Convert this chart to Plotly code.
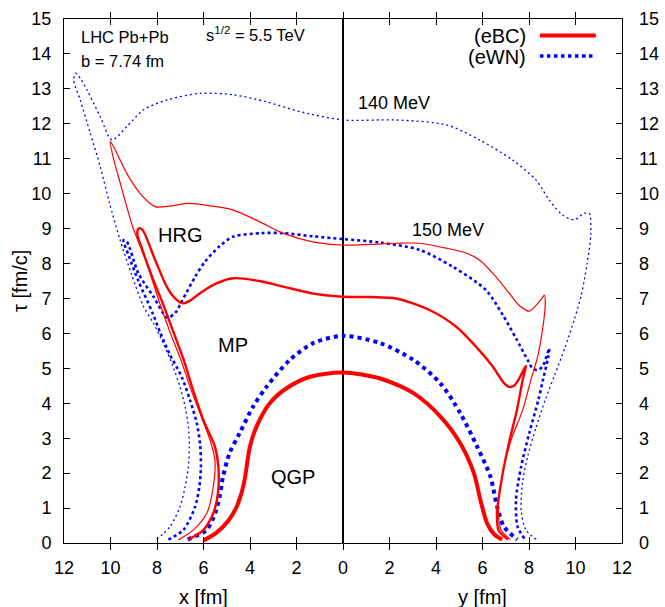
import plotly.graph_objects as go

# Isotherms in the (x, tau) plane: negative abscissa = x direction, positive = y direction
# eBC, QGP boundary
ebc_qgp_x = [-6.0, -5.45, -4.95, -4.6, -4.37, -4.22, -4.12, -4.0, -3.72, -3.15, -2.43, -1.42, 0.0,
             1.6, 3.03, 4.19, 5.05, 5.63, 5.91, 6.2, 6.5, 6.85]
ebc_qgp_t = [0.07, 0.29, 0.62, 1.0, 1.42, 1.85, 2.3, 2.76, 3.33, 4.0, 4.43, 4.76, 4.88,
             4.71, 4.29, 3.62, 2.85, 2.0, 1.23, 0.56, 0.25, 0.1]

# eWN, QGP boundary
ewn_qgp_x = [-6.68, -5.88, -5.5, -5.3, -5.16, -4.88, -4.45, -3.87, -3.29, -2.29, -1.28, 0.0,
             1.6, 3.03, 4.19, 5.05, 5.77, 6.34, 6.63, 6.92, 7.5]
ewn_qgp_t = [0.1, 0.37, 0.85, 1.35, 1.9, 2.57, 3.14, 3.9, 4.47, 5.24, 5.72, 5.93,
             5.72, 5.24, 4.57, 3.71, 2.76, 1.9, 1.04, 0.47, 0.1]

# eBC, mixed phase / hadron gas boundary
ebc_mp_x = [-6.65, -6.01, -5.58, -5.38, -5.36, -5.51, -6.01, -6.45, -6.85, -7.3, -7.75, -8.2, -8.58,
            -8.85, -8.78, -8.62, -8.08, -7.58, -7.22, -6.9, -6.6, -6.15, -5.45, -4.72, -3.6, -2.58,
            -1.2, 0.0, 1.2, 2.29, 3.72, 4.87, 5.72, 6.44, 6.9, 7.15, 7.35, 7.58, 7.8, 7.87, 7.73,
            7.48, 7.15, 6.87, 6.7, 6.62, 6.7, 7.1]
ebc_mp_t = [0.1, 0.37, 0.85, 1.42, 2.18, 2.76, 3.52, 4.38, 5.24, 6.05, 6.86, 7.6, 8.3,
            8.87, 9.01, 8.96, 8.1, 7.34, 7.0, 6.86, 6.93, 7.15, 7.43, 7.58, 7.5, 7.34,
            7.13, 7.05, 7.04, 7.0, 6.67, 6.19, 5.62, 5.05, 4.6, 4.47, 4.5, 4.71, 5.0, 5.07, 4.67,
            3.81, 2.9, 2.0, 1.3, 0.85, 0.35, 0.1]

# eBC, 150 MeV isotherm
ebc_150_x = [-7.08, -6.44, -5.86, -5.58, -5.51, -5.72, -6.15, -6.58, -6.97, -7.42, -7.9, -8.44,
             -9.05, -9.58, -9.87, -10.01, -9.87, -9.3, -8.73, -8.08, -7.4, -6.65, -5.7, -4.72,
             -3.6, -2.58, -1.3, 0.0, 1.2, 2.29, 3.29, 4.44, 5.3, 5.87, 6.58, 7.15, 7.58, 8.01,
             8.3, 8.55, 8.66, 8.7, 8.58, 8.37, 8.08, 7.73, 7.23, 6.87, 6.68, 6.8, 7.2]
ebc_150_t = [0.09, 0.37, 0.85, 1.61, 2.38, 2.95, 3.71, 4.47, 5.24, 6.0, 6.9, 8.01,
             9.06, 10.3, 11.0, 11.49, 11.35, 10.58, 10.01, 9.63, 9.65, 9.72, 9.65, 9.53,
             9.2, 8.87, 8.62, 8.53, 8.55, 8.58, 8.58, 8.44, 8.3, 8.1, 7.62, 7.15, 6.8, 6.64,
             6.8, 7.0, 7.1, 6.86, 6.1, 5.33, 4.67, 3.81, 2.95, 2.0, 1.04, 0.37, 0.1]

# eWN, 150 MeV isotherm
ewn_150_x = [-7.51, -6.87, -6.36, -6.18, -6.11, -6.15, -6.29, -6.58, -6.94, -7.45, -7.85, -8.2,
             -8.8, -9.2, -9.44, -9.3, -8.8, -8.15, -7.55, -7.2, -6.94, -6.36, -5.94, -5.3, -4.72,
             -3.5, -2.58, -1.3, 0.0, 1.6, 3.29, 4.72, 6.15, 6.87, 7.44, 7.94, 8.15, 8.35, 8.58,
             8.87, 8.82, 8.6, 8.4, 8.01, 7.66, 7.44, 7.51, 7.8]
ewn_150_t = [0.1, 0.37, 1.04, 1.61, 2.18, 2.85, 3.43, 4.09, 4.76, 5.4, 6.0, 6.6,
             7.5, 8.2, 8.67, 8.63, 7.72, 7.05, 6.45, 6.6, 6.91, 7.62, 8.05, 8.5, 8.77,
             8.87, 8.87, 8.78, 8.7, 8.6, 8.39, 7.91, 7.24, 6.53, 5.86, 5.24, 5.0, 4.95, 5.05,
             5.57, 5.3, 4.67, 4.09, 3.14, 2.18, 1.23, 0.47, 0.13]

# eWN, 140 MeV isotherm
ewn_140_x = [-8.01, -7.44, -7.01, -6.79, -6.65, -6.61, -6.65, -6.79, -7.01, -7.36, -7.73, -8.15,
             -8.58, -9.1, -9.6, -10.05, -10.44, -10.87, -11.3, -11.58, -11.5, -11.25, -11.01,
             -10.44, -9.94, -9.3, -8.58, -7.58, -6.15, -4.72, -3.29, -1.86, 0.0, 2.29, 4.44,
             5.87, 7.3, 8.3, 8.87, 9.44, 9.94, 10.37, 10.59, 10.66, 10.5, 10.25, 9.95, 9.55,
             9.1, 8.7, 8.3, 7.95, 7.72, 7.66, 7.87, 8.35]
ewn_140_t = [0.1, 0.47, 1.04, 1.61, 2.18, 2.76, 3.33, 3.9, 4.47, 5.14, 5.72, 6.29,
             6.77, 7.7, 8.7, 9.75, 10.77, 11.73, 12.68, 13.25, 13.45, 13.25, 12.97,
             12.2, 11.54, 11.92, 12.4, 12.68, 12.87, 12.83, 12.63, 12.35, 12.11, 12.11, 11.97,
             11.54, 10.96, 10.39, 9.82, 9.39, 9.25, 9.44, 9.44, 8.87, 8.0, 7.1, 6.4, 5.6,
             4.8, 4.1, 3.3, 2.5, 1.71, 0.94, 0.37, 0.09]

x_tick_vals = list(range(-12, 13, 2))
x_tick_text = [str(abs(v)) for v in x_tick_vals]
y_tick_vals = list(range(0, 16))

RED = "#ff0000"
BLUE = "#0000ff"
FONT = "Liberation Sans, Arial, sans-serif"

fig = go.Figure()

curves = [
    (ewn_140_x, ewn_140_t, BLUE, 1.3, "2px,3px", "y2"),
    (ewn_150_x, ewn_150_t, BLUE, 2.6, "3px,3px", "y"),
    (ewn_qgp_x, ewn_qgp_t, BLUE, 4.0, "4px,4px", "y"),
    (ebc_150_x, ebc_150_t, RED, 1.2, "solid", "y"),
    (ebc_mp_x, ebc_mp_t, RED, 2.4, "solid", "y"),
    (ebc_qgp_x, ebc_qgp_t, RED, 4.0, "solid", "y"),
]
for cx, ct, col, w, dash, yax in curves:
    fig.add_trace(go.Scatter(
        x=cx, y=ct, mode="lines", yaxis=yax, showlegend=False, hoverinfo="skip",
        line=dict(color=col, width=w, dash=dash, shape="spline", smoothing=0.8),
    ))

TICK_FONT = dict(family=FONT, size=18, color="black")
axis_common = dict(showgrid=False, showline=True, linecolor="black", linewidth=1,
                   ticks="inside", ticklen=6, tickcolor="black", mirror="allticks",
                   tickfont=TICK_FONT, automargin=False)

fig.update_layout(
    width=665, height=607,
    margin=dict(l=64, r=43, t=19, b=64),
    paper_bgcolor="white", plot_bgcolor="white",
    font=dict(family=FONT, color="black"),
    xaxis=dict(range=[-12, 12], tickvals=x_tick_vals, ticktext=x_tick_text,
               zeroline=True, zerolinecolor="black", zerolinewidth=1.6,
               ticklabelstandoff=8, **axis_common),
    yaxis=dict(range=[0, 15], tickvals=y_tick_vals, zeroline=True, zerolinecolor="black",
               zerolinewidth=2, ticklabelstandoff=8, **axis_common),
    yaxis2=dict(range=[0, 15], tickvals=y_tick_vals, overlaying="y", side="right",
                matches="y", showgrid=False, zeroline=False, showline=False, ticks="",
                ticklabelstandoff=16, tickfont=TICK_FONT, automargin=False),
)

def note(text, x, y, size=17, xanchor="center", xref="x", yref="y", angle=0):
    fig.add_annotation(text=text, x=x, y=y, xref=xref, yref=yref, showarrow=False,
                       xanchor=xanchor, yanchor="middle", textangle=angle,
                       font=dict(family=FONT, size=size, color="black"))

note("LHC Pb+Pb", -11.35, 14.49, size=16.5, xanchor="left")
note("s<sup>1/2</sup> = 5.5 TeV", -5.98, 14.57, size=16.5, xanchor="left")
note("b = 7.74 fm", -11.35, 13.8, size=16.5, xanchor="left")
note("140 MeV", 2.19, 12.6, size=18)
note("150 MeV", 4.5, 8.96, size=18)
note("HRG", -7.0, 8.82, size=20)
note("MP", -4.73, 5.67, size=20)
note("QGP", -2.17, 1.89, size=20)
note("x [fm]", -6, -0.103, size=20, yref="paper")
note("y [fm]", 6, -0.103, size=20, yref="paper")
note("τ [fm/c]", -0.079, 0.5, size=20, xref="paper", yref="paper", angle=-90)

# Legend in the upper right corner: label on the left, line sample on the right
note("(eBC)", 0.8315, 0.9675, size=20, xanchor="right", xref="paper", yref="paper")
note("(eWN)", 0.8315, 0.9275, size=20, xanchor="right", xref="paper", yref="paper")
fig.add_shape(type="line", xref="paper", yref="paper", x0=0.853, x1=0.953, y0=0.9683, y1=0.9683,
              line=dict(color=RED, width=4))
fig.add_shape(type="line", xref="paper", yref="paper", x0=0.853, x1=0.953, y0=0.9294, y1=0.9294,
              line=dict(color=BLUE, width=3.5, dash="3.5px,3.5px"))

fig.write_html("out.html")
